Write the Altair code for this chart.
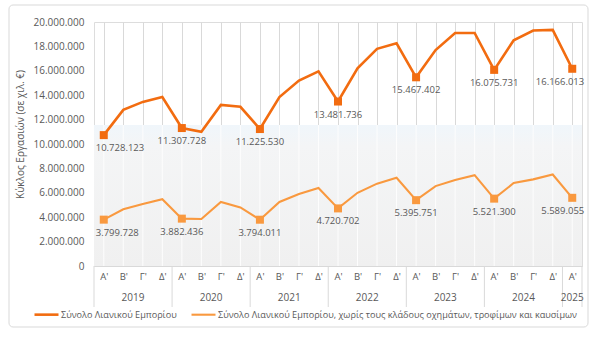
import json
import altair as alt
import pandas as pd

years = ["2019", "2020", "2021", "2022", "2023", "2024", "2025"]
quarters = ["Α'", "Β'", "Γ'", "Δ'"]
series_names = [
    "Σύνολο Λιανικού Εμπορίου",
    "Σύνολο Λιανικού Εμπορίου, χωρίς τους κλάδους οχημάτων, τροφίμων και καυσίμων",
]
total = [
    10728123, 12800000, 13450000, 13850000,
    11307728, 11000000, 13200000, 13050000,
    11225530, 13850000, 15200000, 15950000,
    13481736, 16200000, 17800000, 18250000,
    15467402, 17700000, 19100000, 19100000,
    16075731, 18500000, 19300000, 19350000,
    16166013,
]
excl = [
    3799728, 4650000, 5080000, 5480000,
    3882436, 3850000, 5250000, 4800000,
    3794011, 5250000, 5900000, 6400000,
    4720702, 6000000, 6750000, 7230000,
    5395751, 6550000, 7050000, 7450000,
    5521300, 6800000, 7100000, 7500000,
    5589055,
]
y_ticks = list(range(0, 20000001, 2000000))
colors = ["#F26C10", "#F9993F"]
text_col = "#595959"
grid_col = "#d9d9d9"
FONT = "Open Sans"

n = len(total)
rows = []
for s, vals in zip(series_names, [total, excl]):
    for i, v in enumerate(vals):
        pos = "first" if i == 0 else ("last" if i == n - 1 else "mid")
        rows.append({
            "idx": i,
            "series": s,
            "value": v,
            "year": years[i // 4],
            "q1": i % 4 == 0,
            "label": f"{v:,}".replace(",", "."),
            "pos": pos,
        })
df = pd.DataFrame(rows)

year_rows = []
for k, y in enumerate(years):
    ids = [i for i in range(n) if i // 4 == k]
    year_rows.append({"idx": sum(ids) / len(ids), "year": y})
year_df = pd.DataFrame(year_rows)
sep_df = pd.DataFrame({"idx": [-0.5] + [i + 3.5 for i in range(0, n - 1, 4)] + [n - 0.5]})
grid_df = pd.DataFrame({"idx": list(range(n))})
one = pd.DataFrame({"a": [0]})

W, H = 488, 244

x_enc = alt.X(
    "idx:Q",
    scale=alt.Scale(domain=[-0.5, n - 0.5], nice=False, zero=False),
    axis=alt.Axis(
        values=list(range(n)),
        labelExpr=json.dumps(quarters, ensure_ascii=False) + "[datum.value % 4]",
        grid=True, gridColor=grid_col, ticks=False,
        domainColor=grid_col, labelPadding=5, labelFontSize=9.5,
        labelColor=text_col, labelFont=FONT, title=None,
    ),
)
y_enc = alt.Y(
    "value:Q",
    scale=alt.Scale(domain=[0, 20000000], nice=False),
    axis=alt.Axis(
        values=y_ticks,
        labelExpr="replace(format(datum.value, ','), regexp(',', 'g'), '.')",
        grid=False, ticks=False, domain=False, labelPadding=10,
        labelFontSize=10, labelColor=text_col, labelFont=FONT,
        title="Κύκλος Εργασιών (σε χιλ. €)", titleFontSize=10,
        titleFontWeight="normal", titleColor=text_col, titleFont=FONT,
        titleX=-74, titleY=112, titleBaseline="middle",
    ),
)

bg = alt.Chart(one).mark_rect(
    color=alt.Gradient(
        gradient="linear", x1=0, y1=0, x2=0, y2=1,
        stops=[
            alt.GradientStop(color="#f0f6fb", offset=0),
            alt.GradientStop(color="#f4f5f6", offset=0.15),
            alt.GradientStop(color="#f0f0f0", offset=1),
        ],
    )
).encode(x=alt.value(0), x2=alt.value(W), y=alt.value(103), y2=alt.value(H))

white_grid = alt.Chart(grid_df).mark_rule(color="#fdfdfd", strokeWidth=1).encode(
    x=x_enc, y=alt.value(103), y2=alt.value(H)
)

seps = alt.Chart(sep_df).mark_rule(color=grid_col, strokeWidth=1).encode(
    x=x_enc, y=alt.value(H), y2=alt.value(H + 41)
)

frame = alt.Chart(one).mark_rect(
    fill="transparent", stroke="#d9d9d9", strokeWidth=1, cornerRadius=4
).encode(x=alt.value(-85), x2=alt.value(494), y=alt.value(-17), y2=alt.value(305))

lines = alt.Chart(df).mark_line().encode(
    x=x_enc, y=y_enc,
    stroke=alt.Stroke(
        "series:N",
        scale=alt.Scale(domain=series_names, range=colors),
        legend=alt.Legend(
            orient="none", legendX=-61, legendY=279, direction="horizontal",
            title=None, symbolType="stroke", symbolSize=576, symbolStrokeWidth=2.5,
            labelFontSize=9.1, labelColor=text_col, labelFont=FONT, labelLimit=600,
            columnPadding=10, labelOffset=1, padding=0,
        ),
    ),
    strokeWidth=alt.StrokeWidth(
        "series:N", scale=alt.Scale(domain=series_names, range=[2.6, 2.1]), legend=None
    ),
    detail="series:N",
)

points = alt.Chart(df).transform_filter("datum.q1").mark_square(size=64, opacity=1).encode(
    x=x_enc, y=y_enc,
    fill=alt.Fill("series:N", scale=alt.Scale(domain=series_names, range=colors), legend=None),
)

def label_layer(pos, align, dx):
    return alt.Chart(df).transform_filter(
        f"datum.q1 && datum.pos == '{pos}'"
    ).mark_text(
        align=align, baseline="middle", dy=13, dx=dx, fontSize=9.5,
        color=text_col, font=FONT,
    ).encode(x=x_enc, y=y_enc, text="label:N")

labels = label_layer("first", "left", -8) + label_layer("mid", "center", 0) + label_layer("last", "right", 12)

year_text = alt.Chart(year_df).mark_text(
    baseline="middle", align="center", fontSize=10, color=text_col, font=FONT
).encode(x=x_enc, y=alt.value(H + 32), text="year:N")

chart = alt.layer(
    bg, white_grid, seps, frame, lines, points, labels, year_text
).properties(
    width=W, height=H,
    autosize=alt.AutoSizeParams(type="none"),
    padding={"left": 94, "top": 22, "right": 18, "bottom": 74},
).configure_view(stroke=None).configure(font=FONT, background="white")

chart.save("out.html", embed_options={"renderer": "svg", "actions": False})
